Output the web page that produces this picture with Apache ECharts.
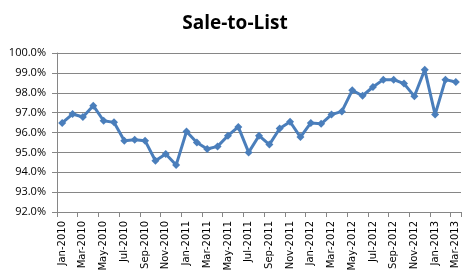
<!DOCTYPE html>
<html><head><meta charset="utf-8">
<script src="https://cdn.jsdelivr.net/npm/echarts@6/dist/echarts.min.js"></script>
<style>html,body{margin:0;padding:0;background:#fff}#c{width:470px;height:280px}</style>
</head><body><div id="c"></div>
<script>
const titleText = "Sale-to-List";
const months = ["Jan","Feb","Mar","Apr","May","Jun","Jul","Aug","Sep","Oct","Nov","Dec"];
const categories = [];
for (let y = 2010; y <= 2013; y++) for (const m of months) categories.push(m + "-" + y);
categories.length = 39;
const saleToList = [
  96.48, 96.93, 96.78, 97.35, 96.59, 96.51, 95.59, 95.64, 95.59, 94.58, 94.92, 94.36,
  96.05, 95.50, 95.17, 95.30, 95.84, 96.28, 95.00, 95.84, 95.39, 96.20, 96.54, 95.77,
  96.48, 96.44, 96.90, 97.06, 98.12, 97.85, 98.29, 98.66, 98.66, 98.46, 97.82, 99.16,
  96.90, 98.66, 98.54
];
const yMin = 92, yMax = 100, yStep = 1;

const chart = echarts.init(document.getElementById('c'), null, {renderer: 'canvas'});
chart.setOption({
  animation: false,
  title: {
    text: titleText, left: 'center', top: 9,
    textStyle: {fontFamily: 'Open Sans', fontWeight: 'bold', fontSize: 19, color: '#000'}
  },
  grid: {left: 57, right: 9, top: 53, bottom: 68},
  xAxis: {
    type: 'category', data: categories, boundaryGap: true,
    axisLine: {lineStyle: {color: '#868686', width: 1}},
    axisTick: {show: true, interval: 1, length: 5, lineStyle: {color: '#868686'}},
    axisLabel: {interval: 1, rotate: 90, fontFamily: 'DejaVu Sans', fontSize: 10, color: '#000', margin: 9}
  },
  yAxis: {
    type: 'value', min: yMin, max: yMax, interval: yStep,
    axisLine: {show: true, lineStyle: {color: '#868686', width: 1}},
    axisTick: {show: true, length: 5, lineStyle: {color: '#868686'}},
    splitLine: {lineStyle: {color: '#868686', width: 1}},
    axisLabel: {formatter: v => v.toFixed(1) + '%', fontFamily: 'Open Sans', fontSize: 11, color: '#000', margin: 11}
  },
  series: [{
    type: 'line', data: saleToList,
    lineStyle: {color: '#4A7EBB', width: 3},
    itemStyle: {color: '#4A7EBB'},
    symbol: 'diamond', symbolSize: 8, showAllSymbol: true
  }]
});
</script></body></html>
